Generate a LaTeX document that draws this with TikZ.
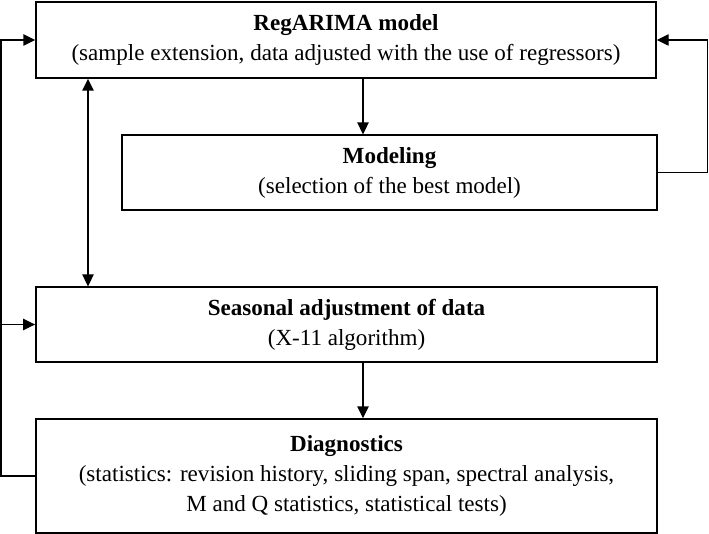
\documentclass[tikz,border=0pt]{standalone}
\usepackage{fontspec}
\setmainfont{Liberation Serif}
\usepackage{tikz}
\usetikzlibrary{arrows.meta,positioning}

\tikzset{
  stagebox/.style={draw,line width=1.1pt,inner sep=0pt,align=center,
                   font=\fontsize{17.3}{22.5}\selectfont},
  arr/.style={-{Triangle[length=9pt,width=8.5pt]},line width=1.1pt},
  dblarr/.style={{Triangle[length=9pt,width=8.5pt]}-{Triangle[length=9pt,width=8.5pt]},line width=1.1pt}
}

\begin{document}
\begin{tikzpicture}[x=0.75pt,y=-0.75pt]

    \useasboundingbox (0,0) rectangle (709,534);

    % ── boxes ──────────────────────────────────────────
    \node[stagebox,minimum width=465pt,minimum height=57pt] (reg) at (346,40)
      {\textbf{RegARIMA model}\\
       (sample extension, data adjusted with the use of regressors)};
    \node[stagebox,minimum width=401pt,minimum height=56pt] (mod) at (389.5,172.5)
      {\textbf{Modeling}\\(selection of the best model)};
    \node[stagebox,minimum width=466pt,minimum height=56pt] (seas) at (346.5,324.5)
      {\textbf{Seasonal adjustment of data}\\(X-11 algorithm)};
    \node[stagebox,minimum width=466pt,minimum height=85.5pt] (diag) at (346.5,476)
      {\textbf{Diagnostics}\\
       (statistics: revision history, sliding span, spectral analysis,\\
       M and Q statistics, statistical tests)};

    % ── connectors ─────────────────────────────────────
    \coordinate (xa) at (363,0);
    \coordinate (xb) at (88,0);
    \draw[arr] (xa |- reg.south) -- (xa |- mod.north);
    \draw[arr] (mod.east) -- ++(50,0) |- (reg.east);
    \draw[dblarr] (xb |- reg.south) -- (xb |- seas.north);
    \draw[arr] (xa |- seas.south) -- (xa |- diag.north);
    % feedback from diagnostics
    \draw[arr] (diag.west) -- ++(-34,0) coordinate (back) |- (reg.west);
    \draw[arr] (back) |- (seas.west);

  \end{tikzpicture}
\end{document}
